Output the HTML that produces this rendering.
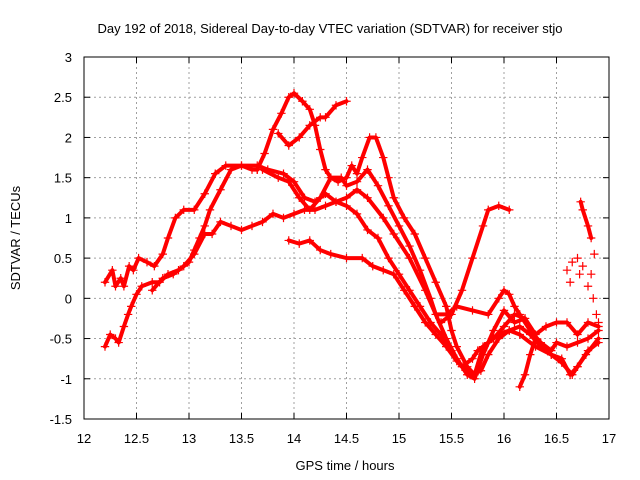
<!DOCTYPE html>
<html><head><meta charset="utf-8"><style>
body{margin:0;background:#fff}
svg{display:block;font-family:"Liberation Sans",sans-serif}
</style></head><body>
<svg id="chart" width="640" height="480">
<text x="330" y="33" text-anchor="middle" font-size="13" fill="#000">Day 192 of 2018, Sidereal Day-to-day VTEC variation (SDTVAR) for receiver stjo</text>
<text x="345" y="470" text-anchor="middle" font-size="13">GPS time / hours</text>
<text transform="translate(20,238) rotate(-90)" text-anchor="middle" font-size="13">SDTVAR / TECUs</text>
<g id="grid"></g>
<g id="marks"></g>
<rect x="84" y="57" width="525" height="362" fill="none" stroke="#000" stroke-width="1"/>
</svg>
<script>
const xTicks=[12,12.5,13,13.5,14,14.5,15,15.5,16,16.5,17];
const yTicks=[3,2.5,2,1.5,1,0.5,0,-0.5,-1,-1.5];
const series1=[[12.2,-0.6],[12.25,-0.45],[12.3,-0.5],[12.33,-0.55],[12.38,-0.35],[12.42,-0.2],[12.45,-0.1],[12.5,0.05],[12.55,0.15],[12.65,0.2],[12.72,0.2],[12.8,0.3],[12.9,0.35],[13.0,0.45],[13.05,0.6],[13.1,0.75],[13.15,0.9],[13.2,1.1],[13.3,1.35],[13.4,1.6],[13.5,1.65],[13.6,1.6],[13.65,1.6]];
const series2=[[12.2,0.2],[12.27,0.35],[12.3,0.15],[12.35,0.25],[12.38,0.15],[12.43,0.4],[12.47,0.35],[12.52,0.5],[12.6,0.45],[12.67,0.4],[12.75,0.55],[12.8,0.75],[12.87,1.0],[12.95,1.1],[13.05,1.1],[13.15,1.3],[13.25,1.55],[13.35,1.65],[13.5,1.65],[13.65,1.65],[13.75,1.6],[13.9,1.55],[14.0,1.45],[14.1,1.25],[14.2,1.2],[14.3,1.3],[14.4,1.2],[14.5,1.25],[14.6,1.35],[14.7,1.25],[14.85,1.0],[14.95,0.8],[15.1,0.5],[15.25,0.1],[15.35,-0.2],[15.45,-0.5],[15.55,-0.75],[15.65,-0.95],[15.72,-1.0],[15.8,-0.7],[15.9,-0.4],[16.0,-0.15],[16.1,-0.3],[16.2,-0.25]];
const series3=[[12.65,0.1],[12.75,0.25],[12.85,0.3],[12.95,0.4],[13.05,0.55],[13.15,0.8],[13.22,0.8],[13.3,0.95],[13.4,0.9],[13.5,0.85],[13.6,0.9],[13.7,0.95],[13.8,1.05],[13.9,1.0],[14.0,1.05],[14.1,1.1],[14.2,1.1],[14.3,1.15],[14.4,1.2],[14.5,1.15],[14.6,1.05],[14.7,0.85],[14.8,0.75],[14.9,0.5],[15.0,0.3],[15.1,0.1],[15.2,-0.1],[15.3,-0.3],[15.4,-0.45],[15.5,-0.65],[15.6,-0.85],[15.7,-0.95],[15.78,-0.9],[15.85,-0.7],[15.95,-0.5],[16.05,-0.4],[16.15,-0.45],[16.3,-0.6],[16.45,-0.7],[16.55,-0.8],[16.65,-0.95],[16.7,-0.85],[16.78,-0.7],[16.9,-0.5]];
const series4=[[13.95,0.72],[14.05,0.68],[14.15,0.72],[14.25,0.6],[14.35,0.55],[14.5,0.5],[14.65,0.5],[14.75,0.4],[14.85,0.35],[14.95,0.3],[15.05,0.1],[15.15,-0.1],[15.25,-0.3],[15.35,-0.45],[15.45,-0.6],[15.55,-0.78],[15.6,-0.85],[15.7,-0.75],[15.75,-0.65],[15.85,-0.55],[15.95,-0.45],[16.05,-0.4],[16.15,-0.35],[16.25,-0.45],[16.35,-0.6],[16.45,-0.7],[16.55,-0.75],[16.63,-0.95],[16.7,-0.85],[16.8,-0.65],[16.9,-0.55]];
const series5=[[13.65,1.6],[13.72,1.8],[13.8,2.1],[13.88,2.3],[13.95,2.5],[14.0,2.55],[14.08,2.45],[14.15,2.35],[14.2,2.15],[14.25,1.85],[14.3,1.6],[14.35,1.5],[14.42,1.45],[14.5,1.5],[14.55,1.65],[14.6,1.55],[14.65,1.75],[14.72,2.0],[14.78,2.0],[14.85,1.75],[14.9,1.5],[14.95,1.25],[15.05,1.0],[15.15,0.8],[15.25,0.5],[15.35,0.2],[15.45,-0.1],[15.5,-0.4],[15.55,-0.6],[15.65,-0.85],[15.72,-0.95],[15.8,-0.6],[15.9,-0.5],[16.0,-0.35],[16.1,-0.2],[16.2,-0.25],[16.3,-0.45],[16.4,-0.35],[16.5,-0.3],[16.6,-0.3],[16.7,-0.45],[16.8,-0.3],[16.9,-0.35]];
const series6=[[13.85,2.05],[13.95,1.9],[14.05,2.0],[14.15,2.15],[14.25,2.25],[14.3,2.25],[14.4,2.4],[14.5,2.45]];
const series7=[[13.7,1.6],[13.85,1.5],[13.95,1.45],[14.05,1.25],[14.15,1.1],[14.25,1.25],[14.35,1.5],[14.45,1.5],[14.5,1.4],[14.6,1.45],[14.7,1.6],[14.8,1.4],[14.9,1.15],[15.0,0.9],[15.1,0.65],[15.2,0.35],[15.3,0.0],[15.35,-0.2],[15.45,-0.2],[15.55,-0.1],[15.7,-0.15],[15.85,-0.2],[15.95,0.0],[16.0,0.1],[16.05,0.05],[16.1,-0.1],[16.15,-0.2],[16.25,-0.4],[16.35,-0.55],[16.45,-0.65],[16.5,-0.55],[16.6,-0.6],[16.7,-0.55],[16.8,-0.5],[16.9,-0.4]];
const series8=[[15.4,-0.3],[15.5,-0.2],[15.6,0.1],[15.7,0.5],[15.8,0.9],[15.85,1.1],[15.95,1.15],[16.05,1.1]];
const series9=[[16.15,-1.1],[16.2,-0.95],[16.25,-0.7],[16.3,-0.5]];
const series10=[[16.73,1.2],[16.75,1.1],[16.8,0.9],[16.83,0.75]];
const scatter11=[[16.6,0.35],[16.63,0.2],[16.65,0.45],[16.7,0.5],[16.72,0.3],[16.75,0.4],[16.8,0.15],[16.83,0.3],[16.85,0.0],[16.88,-0.2],[16.9,-0.3],[16.86,0.55]];
const lineSeries=[series1,series2,series3,series4,series5,series6,series7,series8,series9,series10];

const X0=84,X1=609,Y0=419,Y1=57;
const xs=t=>X0+(t-12)/5*(X1-X0);
const ys=v=>Y0-(v+1.5)/4.5*(Y0-Y1);
const NS='http://www.w3.org/2000/svg';
const grid=document.getElementById('grid');
const marks=document.getElementById('marks');
function mk(tag,attrs,parent){const e=document.createElementNS(NS,tag);for(const k in attrs)e.setAttribute(k,attrs[k]);parent.appendChild(e);return e;}
xTicks.forEach(t=>{
  const x=xs(t);
  if(t>12&&t<17){const g=mk('line',{x1:x,x2:x,y1:Y0,y2:Y1,stroke:'#a0a0a0','stroke-dasharray':'2,3','stroke-width':1},grid);
  
  }
  mk('line',{x1:x,x2:x,y1:Y0,y2:Y0-6,stroke:'#000'},grid);
  mk('line',{x1:x,x2:x,y1:Y1,y2:Y1+6,stroke:'#000'},grid);
  const l=mk('text',{x:x,y:443,'text-anchor':'middle','font-size':13},grid);l.textContent=t;
  
  
});
yTicks.forEach(v=>{
  const y=ys(v);
  if(v<3&&v>-1.5){const g=mk('line',{x1:X0,x2:X1,y1:y,y2:y,stroke:'#a0a0a0','stroke-dasharray':'2,3','stroke-width':1},grid);
  
  }
  mk('line',{x1:X0,x2:X0+6,y1:y,y2:y,stroke:'#000'},grid);
  mk('line',{x1:X1,x2:X1-6,y1:y,y2:y,stroke:'#000'},grid);
  const l=mk('text',{x:72,y:y+5,'text-anchor':'end','font-size':13},grid);l.textContent=v;
  
  
});
function plus(t,v){
  const x=xs(t),y=ys(v);
  const p=mk('path',{d:`M${x-4.2},${y}H${x+4.2}M${x},${y-4.2}V${y+4.2}`,stroke:'#f00','stroke-width':1.2,fill:'none'},marks);
  
  
}
lineSeries.forEach((s,i)=>{
  const pl=mk('polyline',{points:s.map(p=>xs(p[0])+','+ys(p[1])).join(' '),fill:'none',stroke:'#f00','stroke-width':4,'stroke-linejoin':'round','stroke-linecap':'round'},marks);
  
  
  s.forEach(p=>plus(p[0],p[1]));
});
scatter11.forEach(p=>plus(p[0],p[1]));
</script>
</body></html>
